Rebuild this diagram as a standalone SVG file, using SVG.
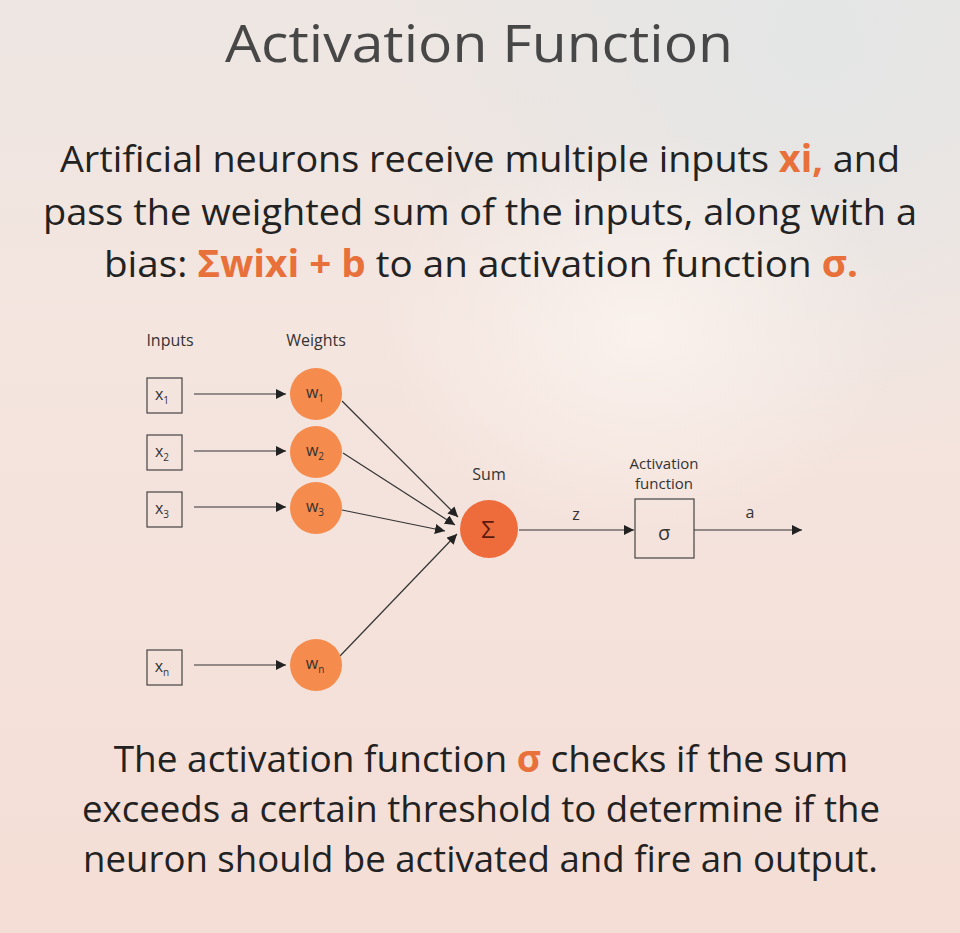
<svg xmlns="http://www.w3.org/2000/svg" width="960" height="933" viewBox="0 0 960 933">
<defs>
<linearGradient id="bg" x1="0" y1="0" x2="0" y2="1">
<stop offset="0" stop-color="#ede6e2"/>
<stop offset="0.35" stop-color="#f4e5df"/>
<stop offset="1" stop-color="#f4ded6"/>
</linearGradient>
<radialGradient id="glowTR" cx="0.85" cy="0.05" r="0.45">
<stop offset="0" stop-color="#e2e6e6" stop-opacity="0.9"/>
<stop offset="1" stop-color="#e2e6e6" stop-opacity="0"/>
</radialGradient>
<radialGradient id="glowC" cx="0.5" cy="0.5" r="0.5">
<stop offset="0" stop-color="#fbf3ee" stop-opacity="0.9"/>
<stop offset="1" stop-color="#fbf3ee" stop-opacity="0"/>
</radialGradient>
<marker id="arr" viewBox="0 0 10 10" refX="10" refY="5" markerWidth="10" markerHeight="10" markerUnits="userSpaceOnUse" orient="auto">
<path d="M0,0 L10,5 L0,10 z" fill="#222"/>
</marker>
</defs>
<style>
.t{font-family:"Open Sans","Liberation Sans",sans-serif;}
.title{font-size:51px;fill:#474747;font-weight:500;}
.para{font-size:37px;fill:#222;}
.hl{fill:#e8703a;font-weight:bold;}
.lbl{font-size:16px;fill:#333;text-anchor:middle;}
.al{font-size:15px;}
.box{fill:none;stroke:#444;stroke-width:1.2;}
.wc{fill:#f58b4c;}
.sc{fill:#ee6b3b;}
.ln{stroke:#333;stroke-width:1.2;fill:none;marker-end:url(#arr);}
.sub{font-size:10px;}
</style>
<rect width="960" height="933" fill="url(#bg)"/>
<rect width="960" height="933" fill="url(#glowTR)"/>
<ellipse cx="640" cy="330" rx="260" ry="200" fill="url(#glowC)"/>

<text class="t title" x="225" y="62" textLength="508" lengthAdjust="spacingAndGlyphs">Activation Function</text>
<text class="t para" x="60" y="172" textLength="840" lengthAdjust="spacingAndGlyphs">Artificial neurons receive multiple inputs <tspan class="hl">xi,</tspan> and</text>
<text class="t para" x="43" y="225" textLength="874" lengthAdjust="spacingAndGlyphs">pass the weighted sum of the inputs, along with a</text>
<text class="t para" x="104" y="277" textLength="754" lengthAdjust="spacingAndGlyphs">bias:  <tspan class="hl">Σwixi + b</tspan> to an activation function <tspan class="hl">σ.</tspan></text>

<text class="t lbl" x="170" y="346">Inputs</text>
<text class="t lbl" x="316" y="346">Weights</text>

<g id="connectors">
<line class="ln" x1="194" y1="394" x2="286" y2="394"/>
<line class="ln" x1="194" y1="451" x2="286" y2="451"/>
<line class="ln" x1="194" y1="507" x2="286" y2="507"/>
<line class="ln" x1="194" y1="665" x2="286" y2="665"/>
<line class="ln" x1="342" y1="401" x2="458" y2="517"/>
<line class="ln" x1="343" y1="453" x2="455" y2="525"/>
<line class="ln" x1="342" y1="510" x2="445" y2="531"/>
<line class="ln" x1="340" y1="656" x2="457" y2="534"/>
<line class="ln" x1="519" y1="530" x2="634" y2="530"/>
<line class="ln" x1="694" y1="530" x2="802" y2="530"/>
</g>

<g id="x1"><rect class="box" x="147" y="378" width="35" height="35"/><text class="t lbl" x="162" y="400">x<tspan class="sub" dy="4">1</tspan></text></g>
<g id="x2"><rect class="box" x="147" y="435" width="35" height="35"/><text class="t lbl" x="162" y="457">x<tspan class="sub" dy="4">2</tspan></text></g>
<g id="x3"><rect class="box" x="147" y="492" width="35" height="35"/><text class="t lbl" x="162" y="514">x<tspan class="sub" dy="4">3</tspan></text></g>
<g id="xn"><rect class="box" x="147" y="650" width="35" height="35"/><text class="t lbl" x="162" y="672">x<tspan class="sub" dy="4">n</tspan></text></g>

<g id="w1"><circle class="wc" cx="316" cy="394" r="26"/><text class="t lbl" x="315" y="398">w<tspan class="sub" dy="4">1</tspan></text></g>
<g id="w2"><circle class="wc" cx="316" cy="452" r="26"/><text class="t lbl" x="315" y="456">w<tspan class="sub" dy="4">2</tspan></text></g>
<g id="w3"><circle class="wc" cx="316" cy="508" r="26"/><text class="t lbl" x="315" y="512">w<tspan class="sub" dy="4">3</tspan></text></g>
<g id="wn"><circle class="wc" cx="316" cy="665" r="26"/><text class="t lbl" x="315" y="669">w<tspan class="sub" dy="4">n</tspan></text></g>

<g id="sum"><text class="t lbl" x="489" y="480">Sum</text><circle class="sc" cx="489" cy="529" r="29"/><text class="t" x="488" y="538" font-size="24" fill="#5a1a10" text-anchor="middle">Σ</text></g>
<text class="t lbl" x="576" y="520">z</text>
<g id="act"><text class="t lbl al" x="664" y="469">Activation</text><text class="t lbl al" x="664" y="489">function</text><rect class="box" x="635" y="499" width="59" height="59"/><text class="t" x="664" y="540" font-size="20" fill="#333" text-anchor="middle">σ</text></g>
<text class="t lbl" x="750" y="518">a</text>

<text class="t para" x="481" y="772" text-anchor="middle">The activation function <tspan class="hl">σ</tspan> checks if the sum</text>
<text class="t para" x="82" y="822" textLength="798" lengthAdjust="spacingAndGlyphs">exceeds a certain threshold to determine if the</text>
<text class="t para" x="83" y="872" textLength="795" lengthAdjust="spacingAndGlyphs">neuron should be activated and fire an output.</text>
</svg>
